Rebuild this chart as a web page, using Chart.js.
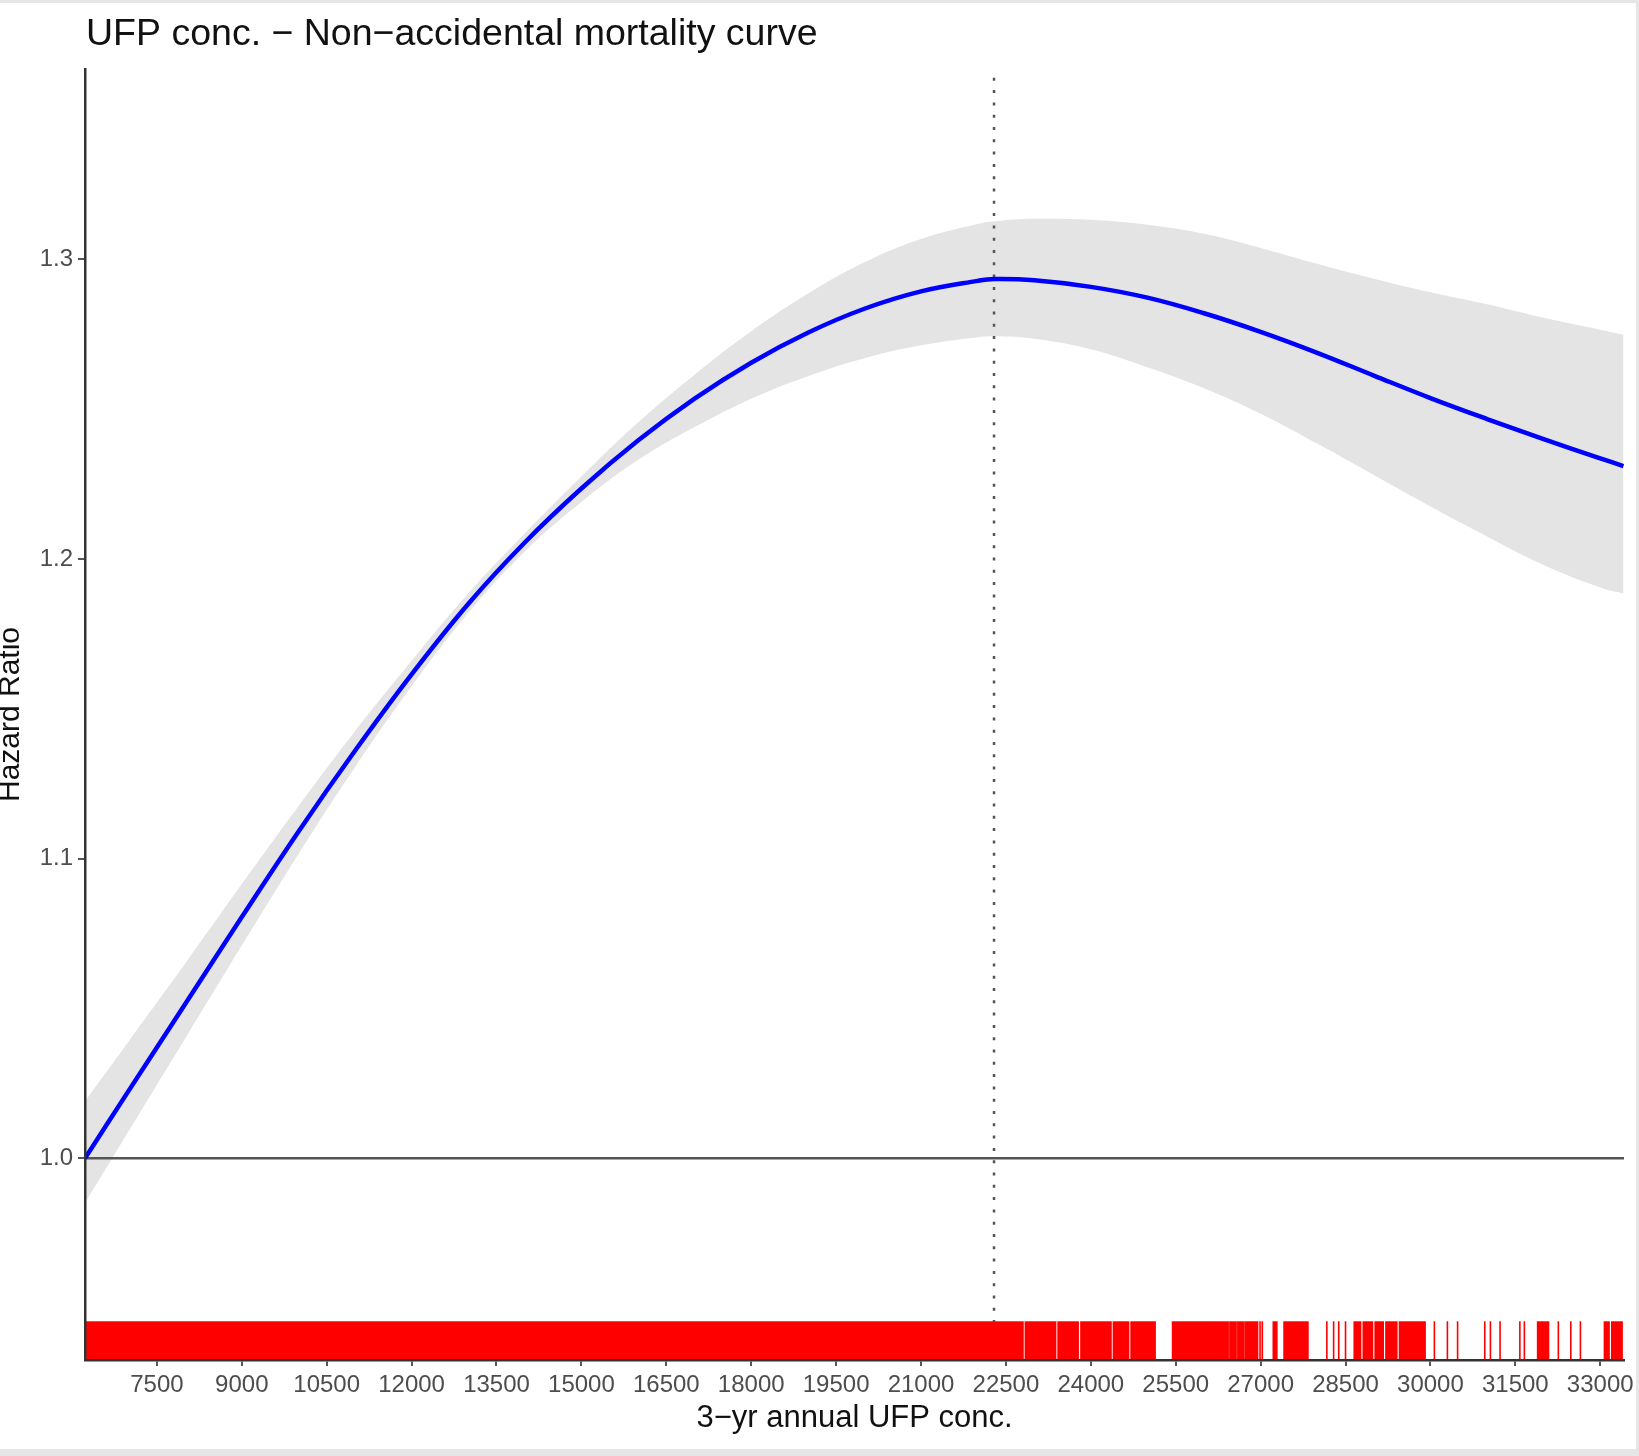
<!DOCTYPE html>
<html>
<head>
<meta charset="utf-8">
<title>UFP conc. - Non-accidental mortality curve</title>
<script src="https://cdn.jsdelivr.net/npm/chart.js@4.4.1/dist/chart.umd.min.js"></script>
<style>
  html, body { margin: 0; padding: 0; background: #ffffff; }
  canvas { display: block; }
</style>
</head>
<body>
<canvas id="mortalityChart" width="1639" height="1456"></canvas>
<script>
// values
const xValues = [6230, 7000, 8000, 9000, 10000, 11000, 12000, 13000, 14000, 15000,
  16000, 17000, 18000, 19000, 20000, 21000, 22000, 22300, 23000, 24000,
  25000, 26000, 27000, 28000, 29000, 30000, 31000, 32000, 33000, 33410];
const hrFit = [1.000, 1.0225, 1.0515, 1.0805, 1.109, 1.136, 1.1615, 1.185, 1.2055, 1.2235,
  1.2395, 1.2535, 1.2655, 1.2755, 1.2835, 1.2893, 1.2928, 1.2934, 1.293, 1.2908,
  1.2872, 1.282, 1.2758, 1.2688, 1.2612, 1.2537, 1.2467, 1.24, 1.2336, 1.231];
const hrUpper = [1.019, 1.039, 1.065, 1.0915, 1.1175, 1.1425, 1.166, 1.1885, 1.2085, 1.2275,
  1.2455, 1.2615, 1.276, 1.2885, 1.299, 1.3068, 1.3118, 1.3127, 1.3135, 1.3132,
  1.3115, 1.3085, 1.3038, 1.2985, 1.2935, 1.289, 1.285, 1.2805, 1.2765, 1.2748];
const hrLower = [0.985, 1.009, 1.040, 1.071, 1.1015, 1.1305, 1.1575, 1.182, 1.2025, 1.219,
  1.233, 1.244, 1.2535, 1.261, 1.267, 1.2713, 1.274, 1.2743, 1.2735, 1.270,
  1.264, 1.257, 1.2485, 1.2385, 1.228, 1.2175, 1.2075, 1.198, 1.1905, 1.1885];

const peakX = 22290;
const refHR = 1.0;

// rug: dense stretches of observations and single observations
const rugBlocks = [[6230, 22815], [22830, 23392], [23408, 23790], [23812, 24370],
  [24386, 24680], [24698, 25150], [25430, 26440], [26444, 26580], [26584, 26720],
  [26724, 26960], [27210, 27300], [27400, 27850], [28640, 28780], [28800, 28990],
  [29010, 29180], [29200, 29420], [29440, 29920], [31880, 32100], [33060, 33170],
  [33190, 33400]];
const rugTicks = [26990, 27030, 28170, 28290, 28380, 28500, 30070, 30300, 30480,
  30960, 31060, 31230, 31580, 31660, 32260, 32480, 32650];

const xTicks = [7500, 9000, 10500, 12000, 13500, 15000, 16500, 18000, 19500, 21000,
  22500, 24000, 25500, 27000, 28500, 30000, 31500, 33000];
const yTicks = [1.0, 1.1, 1.2, 1.3];

const xMin = 6230;
const xMax = 33420;
const yMin = 0.9327;
const yMax = 1.3635;

const fontFamily = '"Liberation Sans", Arial, Helvetica, sans-serif';

function toPoints(xs, ys) {
  return xs.map((x, i) => ({ x: x, y: ys[i] }));
}

const pageFrame = {
  id: "pageFrame",
  beforeDraw(chart) {
    const ctx = chart.ctx;
    ctx.save();
    ctx.fillStyle = "#e6e6e6";
    ctx.fillRect(0, 0, chart.width, chart.height);
    ctx.fillStyle = "#ffffff";
    ctx.fillRect(0, 3, chart.width - 3, chart.height - 10);
    ctx.restore();
  },
};

const rugPlugin = {
  id: "rug",
  afterDatasetsDraw(chart) {
    const ctx = chart.ctx;
    const x = chart.scales.x;
    const area = chart.chartArea;
    const len = (area.bottom - area.top) * 0.03;
    ctx.save();
    ctx.fillStyle = "#ff0000";
    rugBlocks.forEach((b) => {
      const x0 = x.getPixelForValue(b[0]);
      const x1 = x.getPixelForValue(b[1]);
      ctx.fillRect(x0, area.bottom - len, x1 - x0, len);
    });
    rugTicks.forEach((v) => {
      const px = x.getPixelForValue(v);
      ctx.fillRect(px - 0.8, area.bottom - len, 1.6, len);
    });
    ctx.restore();
  },
};

const plotTitle = {
  id: "plotTitle",
  afterDraw(chart) {
    const ctx = chart.ctx;
    ctx.save();
    ctx.font = "37.5px " + fontFamily;
    ctx.fillStyle = "#111111";
    ctx.textBaseline = "alphabetic";
    ctx.textAlign = "left";
    ctx.fillText("UFP conc. \u2212 Non\u2212accidental mortality curve", 86, 45);
    ctx.restore();
  },
};

const ctx = document.getElementById("mortalityChart");

new Chart(ctx, {
  type: "line",
  data: {
    datasets: [
      {
        label: "Hazard ratio",
        data: toPoints(xValues, hrFit),
        borderColor: "#0000ff",
        borderWidth: 4.5,
        pointRadius: 0,
        tension: 0.4,
        fill: false,
        order: 0,
      },
      {
        label: "peak",
        data: [{ x: peakX, y: yMin }, { x: peakX, y: yMax }],
        borderColor: "#555555",
        borderWidth: 2.5,
        borderDash: [3, 9.3],
        pointRadius: 0,
        fill: false,
        order: 1,
      },
      {
        label: "reference",
        data: [{ x: xMin, y: refHR }, { x: xMax, y: refHR }],
        borderColor: "#555555",
        borderWidth: 2.5,
        pointRadius: 0,
        fill: false,
        order: 2,
      },
      {
        label: "upper",
        data: toPoints(xValues, hrUpper),
        borderWidth: 0,
        borderColor: "rgba(0,0,0,0)",
        backgroundColor: "#e4e4e4",
        pointRadius: 0,
        tension: 0.4,
        fill: "+1",
        order: 3,
      },
      {
        label: "lower",
        data: toPoints(xValues, hrLower),
        borderWidth: 0,
        borderColor: "rgba(0,0,0,0)",
        pointRadius: 0,
        tension: 0.4,
        fill: false,
        order: 4,
      },
    ],
  },
  options: {
    responsive: false,
    animation: false,
    layout: {
      padding: { top: 69, right: 15, left: 0, bottom: 0 },
    },
    plugins: {
      legend: { display: false },
      tooltip: { enabled: false },
    },
    scales: {
      x: {
        type: "linear",
        min: xMin,
        max: xMax,
        afterBuildTicks: (scale) => {
          scale.ticks = xTicks.map((v) => ({ value: v }));
        },
        afterFit: (scale) => {
          scale.height = 96;
        },
        grid: {
          display: true,
          drawOnChartArea: false,
          drawTicks: true,
          tickLength: 6,
          color: "#555555",
          lineWidth: 2,
        },
        border: { display: true, color: "#333333", width: 2.5, z: 1 },
        ticks: {
          autoSkip: false,
          maxRotation: 0,
          padding: 5,
          color: "#4d4d4d",
          font: { family: fontFamily, size: 24 },
          callback: (value) => String(value),
        },
        title: {
          display: true,
          text: "3\u2212yr annual UFP conc.",
          color: "#111111",
          font: { family: fontFamily, size: 31 },
          padding: { top: 0, bottom: 19 },
        },
      },
      y: {
        type: "linear",
        min: yMin,
        max: yMax,
        afterBuildTicks: (scale) => {
          scale.ticks = yTicks.map((v) => ({ value: v }));
        },
        afterFit: (scale) => {
          scale.width = 85;
        },
        grid: {
          display: true,
          drawOnChartArea: false,
          drawTicks: true,
          tickLength: 7,
          color: "#555555",
          lineWidth: 2,
        },
        border: { display: true, color: "#333333", width: 2.5, z: 1 },
        ticks: {
          autoSkip: false,
          padding: 5,
          color: "#4d4d4d",
          font: { family: fontFamily, size: 24 },
          callback: (value) => value.toFixed(1),
        },
        title: {
          display: true,
          text: "Hazard Ratio",
          color: "#111111",
          font: { family: fontFamily, size: 30, lineHeight: 0.7 },
          padding: 0,
        },
      },
    },
  },
  plugins: [pageFrame, rugPlugin, plotTitle],
});
</script>
</body>
</html>
